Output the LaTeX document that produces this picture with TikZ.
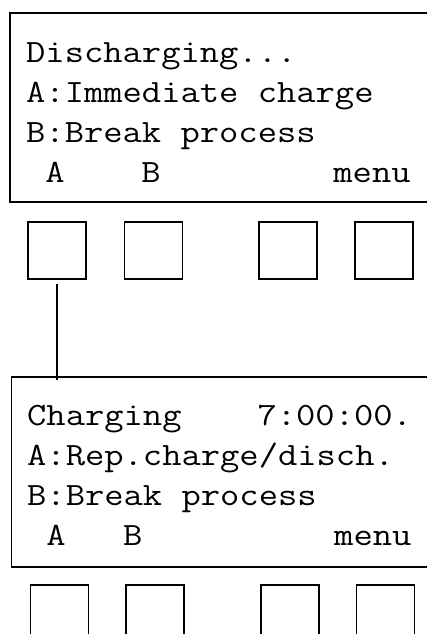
\documentclass[tikz,border=0pt]{standalone}
\usepackage{fontspec}
\setmonofont{Latin Modern Mono}[FakeStretch=1.153]
\begin{document}
\begin{tikzpicture}[x=1pt,y=-1pt,
  screen/.style={draw,line width=1.8pt,anchor=north west,inner sep=0pt},
  btn/.style={draw,line width=1.8pt,anchor=north west,inner sep=0pt,minimum width=58pt,minimum height=57pt},
  lcd/.style={anchor=base west,inner sep=0pt,font=\ttfamily\fontsize{32.5}{40}\selectfont}]
\useasboundingbox (0,0) rectangle (427,634);
% top screen
\node[screen,minimum width=440pt,minimum height=189pt] (s1) at (9,12) {};
\node[lcd] (t1a) at (26,63) {Discharging...};
\node[lcd] (t1b) at (26,102) {A:Immediate charge};
\node[lcd] (t1c) at (26,142) {B:Break process};
\node[lcd] (t1d) at (45.2,182) {A};
\node[lcd] (t1e) at (141.2,182) {B};
\node[lcd] (t1f) at (333.2,182) {menu};
% top buttons
\node[btn] (b1) at (27,221) {};
\node[btn] (b2) at (123.5,221) {};
\node[btn] (b3) at (258,221) {};
\node[btn] (b4) at (354,221) {};
% bottom screen
\node[screen,minimum width=440pt,minimum height=190pt] (s2) at (10.5,376) {};
\node[lcd] (t2a) at (27,425) {Charging};
\node[lcd] (t2g) at (257.4,425) {7:00:00.};
\node[lcd] (t2b) at (27,465) {A:Rep.charge/disch.};
\node[lcd] (t2c) at (27,505) {B:Break process};
\node[lcd] (t2d) at (46.2,545) {A};
\node[lcd] (t2e) at (123,545) {B};
\node[lcd] (t2f) at (334,545) {menu};
% bottom buttons
\node[btn] (c1) at (29.5,584) {};
\node[btn] (c2) at (125,584) {};
\node[btn] (c3) at (260,584) {};
\node[btn] (c4) at (355.5,584) {};
% connector
\coordinate (e) at (b1.south |- 0,380);
\draw[line width=1.8pt] ([yshift=-4pt]b1.south) -- (e);
\end{tikzpicture}
\end{document}
